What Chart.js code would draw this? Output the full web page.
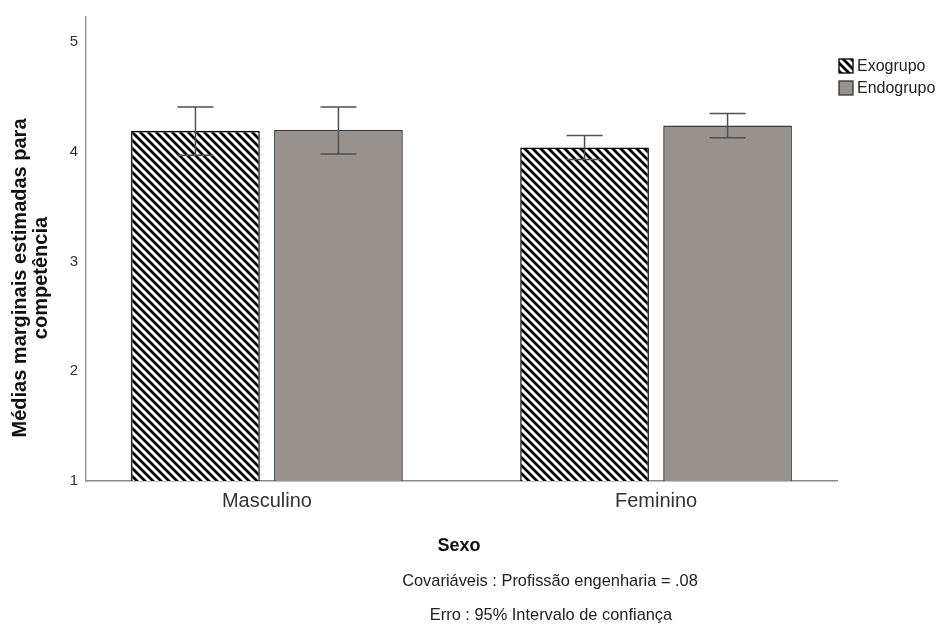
<!DOCTYPE html>
<html>
<head>
<meta charset="utf-8">
<script src="https://cdn.jsdelivr.net/npm/chart.js@4/dist/chart.umd.min.js"></script>
<style>
  html, body { margin: 0; padding: 0; background: #fff; }
  #wrap { width: 945px; height: 626px; }
</style>
</head>
<body>
<div id="wrap"><canvas id="chart1"></canvas></div>
<script>
// data
const categories = ['Masculino', 'Feminino'];
const seriesNames = ['Exogrupo', 'Endogrupo'];
const exoMeans = [4.19, 4.04];
const endoMeans = [4.20, 4.24];
const exoLower = [3.97, 3.93];
const exoUpper = [4.41, 4.15];
const endoLower = [3.98, 4.13];
const endoUpper = [4.41, 4.35];
const yTicks = [1, 2, 3, 4, 5];

const yTitle = ['Médias marginais estimadas para', 'competência'];
const xTitle = 'Sexo';
const notes = ['Covariáveis : Profissão engenharia = .08', 'Erro : 95% Intervalo de confiança'];

const FONT = '"Liberation Sans", Arial, sans-serif';

function makeHatch(){
    const s = 8;
    const c = document.createElement('canvas');
    c.width = s; c.height = s;
    const g = c.getContext('2d');
    g.fillStyle = '#fff';
    g.fillRect(0, 0, s, s);
    g.strokeStyle = '#000';
    g.lineWidth = 2.7;
    g.beginPath();
    for (let k = -1; k <= 1; k++){
        g.moveTo(-1, k * s - 1);
        g.lineTo(s + 1, s + k * s + 1);
    }
    g.stroke();
    return g.createPattern(c, 'repeat');
}

const hatch = makeHatch();
const endoFill = '#98938f';

const errLow = [exoLower, endoLower];
const errHigh = [exoUpper, endoUpper];

// error bars, drawn with the y scale
const errorBars = {
    id: 'errorBars',
    afterDatasetsDraw(chart){
        const ctx = chart.ctx;
        const y = chart.scales.y;
        ctx.save();
        ctx.strokeStyle = '#505050';
        ctx.lineWidth = 1.5;
        chart.data.datasets.forEach((ds, d) => {
            const meta = chart.getDatasetMeta(d);
            meta.data.forEach((bar, i) => {
                const top = y.getPixelForValue(errHigh[d][i]);
                const bot = y.getPixelForValue(errLow[d][i]);
                ctx.beginPath();
                ctx.moveTo(bar.x, top); ctx.lineTo(bar.x, bot);
                ctx.moveTo(bar.x - 18, top); ctx.lineTo(bar.x + 18, top);
                ctx.moveTo(bar.x - 18, bot); ctx.lineTo(bar.x + 18, bot);
                ctx.stroke();
            });
        });
        ctx.restore();
    }
};

// titles, notes and legend
const annotations = {
    id: 'annotations',
    afterDraw(chart){
        const ctx = chart.ctx;
        ctx.save();
        ctx.fillStyle = '#111';
        ctx.textAlign = 'center';
        ctx.textBaseline = 'middle';

        ctx.save();
        ctx.translate(20, 278);
        ctx.rotate(-Math.PI / 2);
        ctx.font = 'bold 20px ' + FONT;
        ctx.fillText(yTitle[0], 0, 0);
        ctx.fillText(yTitle[1], 0, 21);
        ctx.restore();

        ctx.font = 'bold 18px ' + FONT;
        ctx.fillText(xTitle, 459, 546);
        ctx.font = '16.4px ' + FONT;
        ctx.fillStyle = '#222';
        ctx.fillText(notes[0], 550, 581);
        ctx.fillText(notes[1], 551, 615);

        // legend
        const fills = [hatch, endoFill];
        const borders = ['#000', '#333'];
        ctx.textAlign = 'left';
        seriesNames.forEach((name, i) => {
            const by = 59 + i * 22;
            ctx.fillStyle = fills[i];
            ctx.fillRect(839, by, 14, 14);
            ctx.strokeStyle = borders[i];
            ctx.lineWidth = 1.3;
            ctx.strokeRect(839, by, 14, 14);
            ctx.fillStyle = '#222';
            ctx.font = '16px ' + FONT;
            ctx.fillText(name, 857, by + 8);
        });
        ctx.restore();
    }
};

const ctx1 = document.getElementById('chart1');
new Chart(ctx1, {
    type: 'bar',
    data: {
        datasets: [{
            label: seriesNames[0],
            data: exoMeans.map((v, i) => ({x: i, y: v})),
            backgroundColor: hatch,
            borderColor: '#000',
            borderWidth: 1.5,
            borderSkipped: false
        }, {
            label: seriesNames[1],
            data: endoMeans.map((v, i) => ({x: i, y: v})),
            backgroundColor: endoFill,
            borderColor: '#3a3a3a',
            borderWidth: 1.5,
            borderSkipped: false
        }]
    },
    options: {
        responsive: true,
        maintainAspectRatio: false,
        animation: false,
        categoryPercentage: 0.735,
        barPercentage: 0.90,
        layout: { padding: { left: 0, right: 108, top: 13, bottom: 0 } },
        plugins: {
            legend: { display: false },
            tooltip: { enabled: false }
        },
        scales: {
            x: {
                type: 'linear',
                offset: false,
                min: -0.465,
                max: 1.465,
                grid: { display: false, drawTicks: false },
                border: { color: '#8a8a8a', width: 1.5 },
                afterBuildTicks: s => { s.ticks = categories.map((c, i) => ({value: i})); },
                afterFit: s => { s.height = 145; },
                ticks: {
                    padding: 8,
                    color: '#333',
                    font: { family: FONT, size: 20 },
                    callback: v => categories[v]
                }
            },
            y: {
                min: 1,
                max: 5.23,
                grid: { display: false, drawTicks: false },
                border: { color: '#999', width: 1.5 },
                afterBuildTicks: s => { s.ticks = yTicks.map(v => ({value: v})); },
                afterFit: s => { s.width = 86; },
                ticks: {
                    padding: 8,
                    color: '#333',
                    font: { family: FONT, size: 15 }
                }
            }
        }
    },
    plugins: [errorBars, annotations]
});
</script>
</body>
</html>
